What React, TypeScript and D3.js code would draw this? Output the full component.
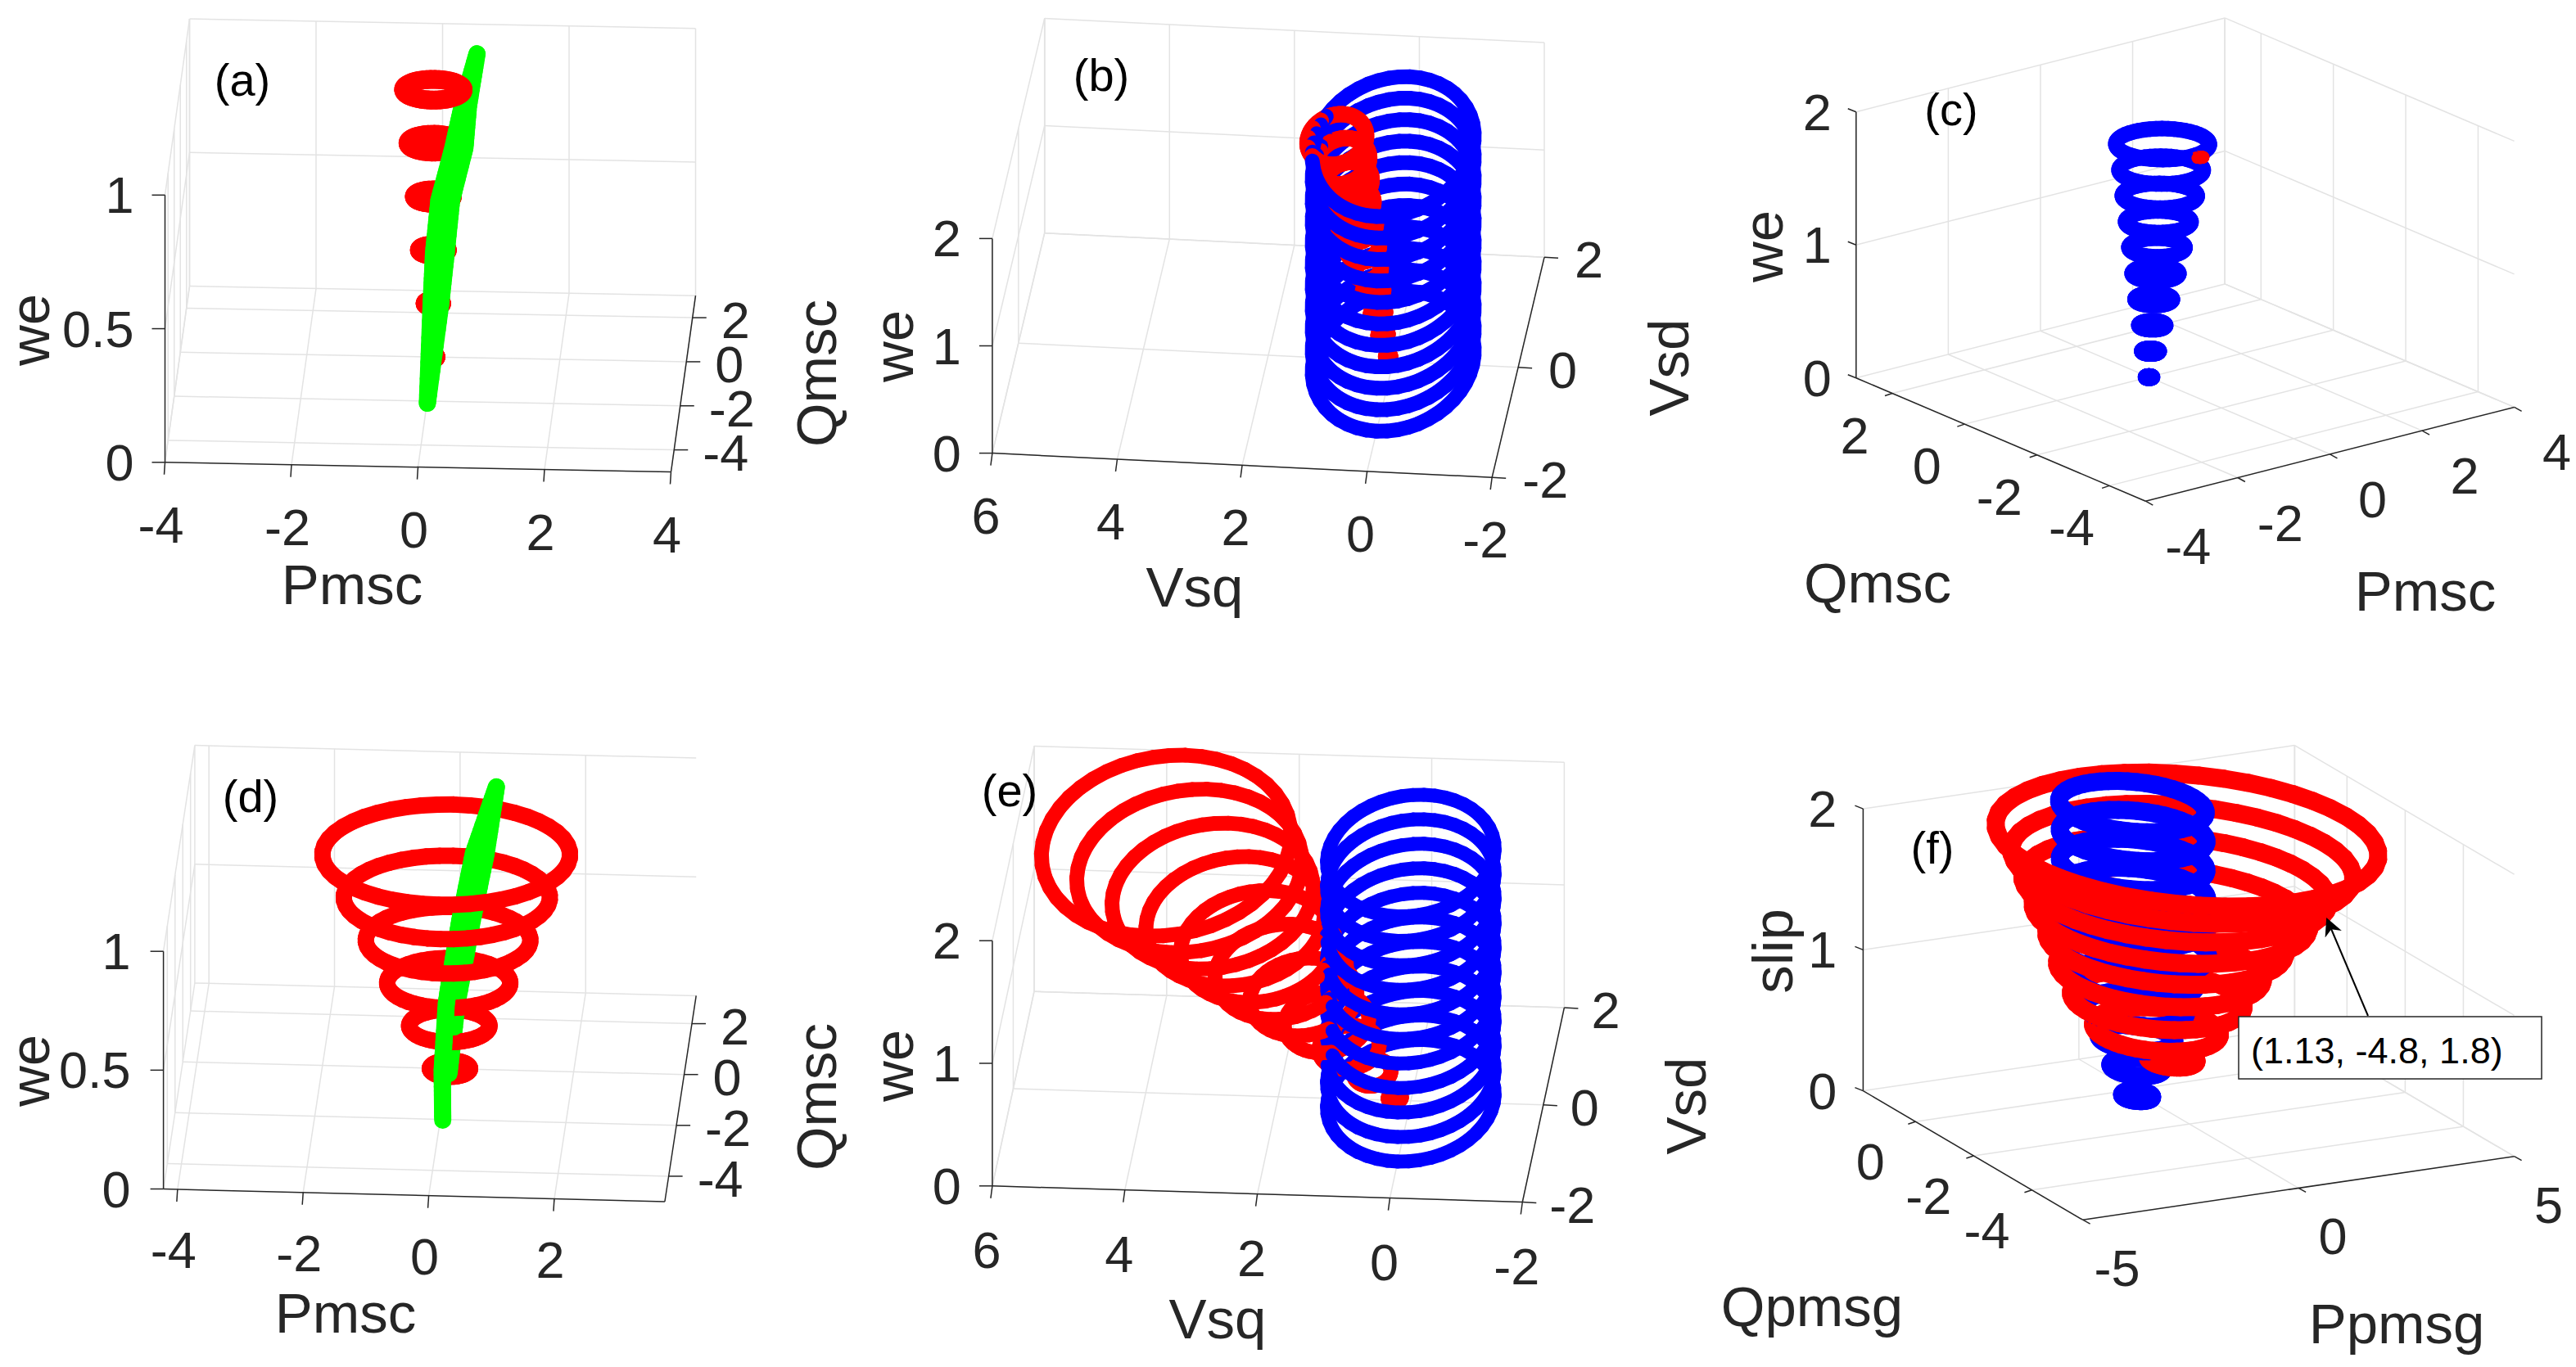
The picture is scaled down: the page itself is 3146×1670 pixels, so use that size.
import * as d3 from "d3";

const FONT = "'Liberation Sans', Arial, sans-serif";
const TEXT = "#262626";
const GRID = "#e3e3e3";
const RED = "#ff0000";
const BLUE = "#0000ff";
const GREEN = "#00ff00";

// rings: level, centre and radius of each turn
const aRedWe = [0, 0.2, 0.4, 0.6, 0.8, 1];
const aRedP = [0, 0, 0, 0, 0, 0];
const aRedQ = [0, 0, 0, 0, 0, 0];
const aRedR = [0.04, 0.13, 0.22, 0.3, 0.4, 0.47];
// the green trace is a very narrow coil, kept as its two edges
const aGreenLeftP = [0.08, 0.1, 0.12, 0.17, 0.35, 0.45, 0.61];
const aGreenRightP = [0.08, 0.25, 0.32, 0.37, 0.54, 0.55, 0.61];
const aGreenQ = [-3.6, -2.8, -2.4, -1.7, -0.85, 0.1, 1.65];
const aGreenWe = [0.124, 0.426, 0.589, 0.727, 0.854, 0.932, 1.001];

const bBlueWe = [0, 0.2, 0.4, 0.6, 0.8, 1, 1.2, 1.4, 1.6, 1.8, 2];
const bBlueV = [0, 0, 0, 0, 0, 0, 0, 0, 0, 0, 0];
const bBlueR = [1.27, 1.27, 1.27, 1.27, 1.27, 1.27, 1.27, 1.27, 1.27, 1.27, 1.27];
const bRedVsq = [0.1, 0.18, 0.26, 0.34, 0.42, 0.5, 0.59, 0.67, 0.75, 0.83, 0.92];
const bRedVsd = [0.08, 0.08, 0.08, 0.08, 0.08, 0.08, 0.08, 0.08, 0.08, 0.08, 0.08];
const bRedR = [0.03, 0.07, 0.11, 0.16, 0.2, 0.25, 0.29, 0.33, 0.38, 0.42, 0.46];

const cBlueWe = [0, 0.2, 0.4, 0.6, 0.8, 1, 1.2, 1.4, 1.6, 1.8];
const cBlueP = [0, 0, 0, 0, 0, 0, -0.01, -0.01, -0.02, -0.02];
const cBlueQ = [0, -0.04, -0.09, -0.13, -0.18, -0.22, -0.27, -0.31, -0.36, -0.4];
const cBlueR = [0.06, 0.15, 0.23, 0.32, 0.4, 0.48, 0.56, 0.64, 0.72, 0.8];
const cRedWe = [1.8];
const cRedP = [0.07];
const cRedQ = [-1.32];
const cRedR = [0.07];

const dRedWe = [0, 0.18, 0.36, 0.54, 0.72, 0.9];
const dRedP = [0.03, 0.02, 0.01, 0, -0.02, -0.03];
const dRedQ = [0, 0, 0, 0, 0, 0];
const dRedR = [0.32, 0.64, 0.98, 1.31, 1.64, 1.97];
const dGreenLeftP = [0.04, -0.02, 0.04, 0.11, 0.2, 0.36, 0.66];
const dGreenLeftQ = [-2.03, -1.2, -1.1, -1.2, -0.2, 0.7, 1.77];
const dGreenLeftWe = [0, 0.122, 0.392, 0.515, 0.648, 0.833, 1];
const dGreenRightP = [0.03, 0.18, 0.38, 0.55, 0.66];
const dGreenRightQ = [-0.25, -0.6, 0.1, 0.9, 1.77];
const dGreenRightWe = [0.006, 0.339, 0.615, 0.811, 1];

const eBlueR = [1.25, 1.25, 1.25, 1.25, 1.25, 1.25, 1.25, 1.25, 1.25, 1.25, 1.25];
const eRedVsq = [0.25, 0.59, 0.94, 1.28, 1.63, 1.97, 2.32, 2.66, 3.0, 3.35, 3.7];
const eRedVsd = [0.05, 0.05, 0.05, 0.05, 0.05, 0.05, 0.05, 0.05, 0.05, 0.05, 0.05];
const eRedR = [0.1, 0.28, 0.45, 0.63, 0.8, 0.98, 1.15, 1.33, 1.5, 1.68, 1.86];

const fBlueSlip = [0, 0.2, 0.4, 0.6, 0.8, 1, 1.2, 1.4, 1.6, 1.8, 2];
const fBlueP = [-0.08, -0.06, -0.05, -0.04, -0.02, -0.01, 0, 0.02, 0.03, 0.05, 0.06];
const fBlueQ = [-0.32, -0.28, -0.25, -0.21, -0.17, -0.14, -0.1, -0.06, -0.02, 0.01, 0.05];
const fBlueR = [0.29, 0.51, 0.73, 0.97, 1.17, 1.41, 1.41, 1.41, 1.41, 1.41, 1.41];
const fRedSlip = [0.2, 0.4, 0.6, 0.8, 1, 1.2, 1.4, 1.6, 1.8];
const fRedP = [0.84, 0.59, 0.65, 0.72, 0.83, 0.9, 0.94, 0.96, 0.92];
const fRedQ = [-0.16, 0.01, 0.07, 0.08, 0.04, -0.03, -0.13, -0.33, -0.55];
const fRedR = [0.47, 1.22, 1.66, 1.98, 2.3, 2.66, 2.95, 3.29, 3.68];

const ringAngles = d3.range(48).map((i) => (i / 48) * 2 * Math.PI);

type Pt = [number, number, number];
type Mark = { color: string; width: number; bias: number; paths: Pt[][] };

function rings(color: string, width: number, z: number[], cx: number[], cy: number[], r: number[], bias = 0): Mark {
  return {
    color,
    width,
    bias,
    paths: z.map((lev, i) => {
      const pts = ringAngles.map((a): Pt => [cx[i] + r[i] * Math.cos(a), cy[i] + r[i] * Math.sin(a), lev]);
      pts.push(pts[0]);
      return pts;
    }),
  };
}

function trace(color: string, width: number, x: number[], y: number[], z: number[]): Mark {
  // split the long pieces so they sort properly against the rings
  const pts: Pt[] = [];
  x.forEach((_, i) => {
    if (i === 0) return;
    const ix = d3.interpolateNumber(x[i - 1], x[i]);
    const iy = d3.interpolateNumber(y[i - 1], y[i]);
    const iz = d3.interpolateNumber(z[i - 1], z[i]);
    d3.range(12).forEach((k) => pts.push([ix(k / 12), iy(k / 12), iz(k / 12)]));
  });
  pts.push([x[x.length - 1], y[y.length - 1], z[z.length - 1]]);
  return { color, width, bias: 0, paths: [pts] };
}

const panels = [
  {
    letter: "(a)", letterAt: [296, 97],
    origin: [201.5, 564.8], xEnd: [819.5, 576.5], yEnd: [231.5, 349.5], zRise: 326.5,
    xDomain: [-4, 4], yDomain: [-5, 3], zDomain: [0, 1],
    xTicks: [-4, -2, 0, 2, 4], yTicks: [-4, -2, 0, 2], zTicks: [0, 0.5, 1],
    wallAtXEnd: false, xOff: [-5, 76], yOff: [35, 3], yAnchor: "start", zOff: -38, zTick: [-16, 0],
    xTickDir: [-1, 15], yTickDir: [17, 0],
    titles: [
      { t: "Pmsc", at: [430, 714], rot: 0 },
      { t: "we", at: [36, 403], rot: -90 },
      { t: "Qmsc", at: [997, 456], rot: -90 },
    ],
    marks: [
      rings(RED, 23, aRedWe, aRedP, aRedQ, aRedR),
      trace(GREEN, 21, aGreenLeftP, aGreenQ, aGreenWe),
      trace(GREEN, 21, aGreenRightP, aGreenQ, aGreenWe),
    ],
  },
  {
    letter: "(b)", letterAt: [1345, 91],
    origin: [1211.9, 553.6], xEnd: [1822.2, 583.2], yEnd: [1275.7, 284.7], zRise: 262.2,
    xDomain: [6, -2], yDomain: [-2, 2], zDomain: [0, 2],
    xTicks: [6, 4, 2, 0, -2], yTicks: [-2, 0, 2], zTicks: [0, 1, 2],
    wallAtXEnd: false, xOff: [-8, 76], yOff: [37, 3], yAnchor: "start", zOff: -38, zTick: [-16, 0],
    xTickDir: [-2, 15], yTickDir: [17, 1],
    titles: [
      { t: "Vsq", at: [1459, 717], rot: 0 },
      { t: "we", at: [1091, 423], rot: -90 },
      { t: "Vsd", at: [2038, 449], rot: -90 },
    ],
    marks: [
      rings(BLUE, 18, bBlueWe, bBlueV, bBlueV, bBlueR),
      rings(RED, 20, bBlueWe, bRedVsq, bRedVsd, bRedR),
    ],
  },
  {
    letter: "(c)", letterAt: [2383, 133],
    origin: [2620.3, 612.2], xEnd: [3070.6, 497.4], yEnd: [2266.8, 461.7], zRise: 325,
    xDomain: [-4, 4], yDomain: [-5, 3], zDomain: [0, 2],
    xTicks: [-4, -2, 0, 2, 4], yTicks: [-4, -2, 0, 2], zTicks: [0, 1, 2],
    wallAtXEnd: true, xOff: [52, 55], yOff: [-46, 51], yAnchor: "middle", zOff: -30, zTick: [-10, -4],
    xTickDir: [9, 5], yTickDir: [-9, 3],
    titles: [
      { t: "we", at: [2153, 301], rot: -90 },
      { t: "Qmsc", at: [2293, 712], rot: 0 },
      { t: "Pmsc", at: [2962, 722], rot: 0 },
    ],
    marks: [
      rings(BLUE, 19, cBlueWe, cBlueP, cBlueQ, cBlueR),
      rings(RED, 13, cRedWe, cRedP, cRedQ, cRedR),
    ],
  },
  {
    letter: "(d)", letterAt: [306, 972],
    origin: [199.6, 1452.5], xEnd: [811.9, 1468], yEnd: [237.9, 1200.9], zRise: 290.3,
    xDomain: [-4.225, 3.76], yDomain: [-5, 3.1], zDomain: [0, 1],
    xTicks: [-4, -2, 0, 2], yTicks: [-4, -2, 0, 2], zTicks: [0, 0.5, 1],
    wallAtXEnd: false, xOff: [-5, 74], yOff: [35, 3], yAnchor: "start", zOff: -40, zTick: [-16, 0],
    xTickDir: [-1, 15], yTickDir: [17, 0],
    titles: [
      { t: "Pmsc", at: [422, 1604], rot: 0 },
      { t: "we", at: [36, 1308], rot: -90 },
      { t: "Qmsc", at: [997, 1340], rot: -90 },
    ],
    marks: [
      rings(RED, 20, dRedWe, dRedP, dRedQ, dRedR),
      trace(GREEN, 21, dGreenLeftP, dGreenLeftQ, dGreenLeftWe),
      trace(GREEN, 21, dGreenRightP, dGreenRightQ, dGreenRightWe),
    ],
  },
  {
    letter: "(e)", letterAt: [1233, 965],
    origin: [1211.9, 1448.8], xEnd: [1859.3, 1468.5], yEnd: [1263, 1211.2], zRise: 299.6,
    xDomain: [6, -2], yDomain: [-2, 2], zDomain: [0, 2],
    xTicks: [6, 4, 2, 0, -2], yTicks: [-2, 0, 2], zTicks: [0, 1, 2],
    wallAtXEnd: false, xOff: [-7, 78], yOff: [33, 3], yAnchor: "start", zOff: -38, zTick: [-16, 0],
    xTickDir: [-2, 15], yTickDir: [17, 1],
    titles: [
      { t: "Vsq", at: [1487, 1611], rot: 0 },
      { t: "we", at: [1091, 1302], rot: -90 },
      { t: "Vsd", at: [2059, 1351], rot: -90 },
    ],
    marks: [
      rings(BLUE, 17, bBlueWe, bBlueV, bBlueV, eBlueR),
      rings(RED, 18, bBlueWe, eRedVsq, eRedVsd, eRedR),
    ],
  },
  {
    letter: "(f)", letterAt: [2360, 1035],
    origin: [2543.6, 1490.2], xEnd: [3070.6, 1412.7], yEnd: [2275.4, 1332.6], zRise: 344.5,
    xDomain: [-5, 5], yDomain: [-5.75, 1.8], zDomain: [0, 2],
    xTicks: [-5, 0, 5], yTicks: [-4, -2, 0], zTicks: [0, 1, 2],
    wallAtXEnd: true, xOff: [42, 59], yOff: [-55, 49], yAnchor: "middle", zOff: -32, zTick: [-10, -4],
    xTickDir: [9, 5], yTickDir: [-9, 3],
    titles: [
      { t: "slip", at: [2165, 1162], rot: -90 },
      { t: "Qpmsg", at: [2213, 1596], rot: 0 },
      { t: "Ppmsg", at: [2927, 1617], rot: 0 },
    ],
    marks: [
      rings(BLUE, 22, fBlueSlip, fBlueP, fBlueQ, fBlueR, 50),
      rings(RED, 22, fRedSlip, fRedP, fRedQ, fRedR),
    ],
  },
];

const segment = d3.line();

function Txt({ x, y, t, size, rot = 0, anchor = "middle", fill = TEXT }: any) {
  return (
    <text
      transform={`translate(${x},${y}) rotate(${rot})`}
      fontFamily={FONT}
      fontSize={size}
      fill={fill}
      textAnchor={anchor}
      dominantBaseline="central"
    >
      {t}
    </text>
  );
}

function Panel({ p }: any) {
  const fx = d3.scaleLinear().domain(p.xDomain).range([0, 1]);
  const fy = d3.scaleLinear().domain(p.yDomain).range([0, 1]);
  const fz = d3.scaleLinear().domain(p.zDomain).range([0, 1]);
  const ex = [p.xEnd[0] - p.origin[0], p.xEnd[1] - p.origin[1]];
  const ey = [p.yEnd[0] - p.origin[0], p.yEnd[1] - p.origin[1]];

  const project = (x: number, y: number, z: number): [number, number] => [
    p.origin[0] + fx(x) * ex[0] + fy(y) * ey[0],
    p.origin[1] + fx(x) * ex[1] + fy(y) * ey[1] - fz(z) * p.zRise,
  ];
  // bigger means further from the viewer
  const depth = (x: number, y: number, z: number) =>
    -(fx(x) * ex[1] + fy(y) * ey[1]) * 1.5 - (fz(z) * p.zRise) / 1.5;

  const [x0, x1] = p.xDomain;
  const [y0, y1] = p.yDomain;
  const zTop = p.zDomain[1];
  const wallX = p.wallAtXEnd ? x1 : x0;
  const sideX = p.wallAtXEnd ? x0 : x1;
  const zAxisY = p.wallAtXEnd ? y1 : y0;
  const zAxisX = x0;

  const grid: [number, number][][] = [];
  const add = (a: Pt, b: Pt) => grid.push([project(...a), project(...b)]);
  p.xTicks.forEach((t: number) => {
    add([t, y0, 0], [t, y1, 0]);
    add([t, y1, 0], [t, y1, zTop]);
  });
  p.yTicks.forEach((t: number) => {
    add([x0, t, 0], [x1, t, 0]);
    add([wallX, t, 0], [wallX, t, zTop]);
  });
  p.zTicks.forEach((t: number) => {
    add([x0, y1, t], [x1, y1, t]);
    add([wallX, y0, t], [wallX, y1, t]);
  });
  add([wallX, y1, 0], [wallX, y1, zTop]);

  const axes: [number, number][][] = [
    [project(x0, y0, 0), project(x1, y0, 0)],
    [project(sideX, y0, 0), project(sideX, y1, 0)],
    [project(zAxisX, zAxisY, 0), project(zAxisX, zAxisY, zTop)],
  ];

  const pieces: { d: string; color: string; width: number; far: number }[] = [];
  p.marks.forEach((m: Mark) =>
    m.paths.forEach((pts) => {
      for (let i = 1; i < pts.length; i++) {
        const a = pts[i - 1];
        const b = pts[i];
        pieces.push({
          d: segment([project(...a), project(...b)]) as string,
          color: m.color,
          width: m.width,
          far: (depth(...a) + depth(...b)) / 2 + m.bias,
        });
      }
    }),
  );
  pieces.sort((a, b) => d3.descending(a.far, b.far));

  return (
    <g>
      {grid.map((g, i) => (
        <path key={i} d={segment(g) as string} stroke={GRID} strokeWidth={1.5} fill="none" />
      ))}
      {axes.map((g, i) => (
        <path key={i} d={segment(g) as string} stroke={TEXT} strokeWidth={1.5} fill="none" />
      ))}
      {p.xTicks.map((t: number) => {
        const [a, b] = project(t, y0, 0);
        return (
          <g key={t}>
            <line x1={a} y1={b} x2={a + p.xTickDir[0]} y2={b + p.xTickDir[1]} stroke={TEXT} strokeWidth={1.5} />
            <Txt x={a + p.xOff[0]} y={b + p.xOff[1]} t={t} size={63} />
          </g>
        );
      })}
      {p.yTicks.map((t: number) => {
        const [a, b] = project(sideX, t, 0);
        return (
          <g key={t}>
            <line x1={a} y1={b} x2={a + p.yTickDir[0]} y2={b + p.yTickDir[1]} stroke={TEXT} strokeWidth={1.5} />
            <Txt x={a + p.yOff[0]} y={b + p.yOff[1]} t={t} size={63} anchor={p.yAnchor} />
          </g>
        );
      })}
      {p.zTicks.map((t: number) => {
        const [a, b] = project(zAxisX, zAxisY, t);
        return (
          <g key={t}>
            <line x1={a} y1={b} x2={a + p.zTick[0]} y2={b + p.zTick[1]} stroke={TEXT} strokeWidth={1.5} />
            <Txt x={a + p.zOff} y={b} t={t} size={63} anchor="end" />
          </g>
        );
      })}
      {pieces.map((s, i) => (
        <path key={i} d={s.d} stroke={s.color} strokeWidth={s.width} strokeLinecap="round" fill="none" />
      ))}
      {p.titles.map((t: any) => (
        <Txt key={t.t} x={t.at[0]} y={t.at[1]} t={t.t} size={69} rot={t.rot} />
      ))}
      <Txt x={p.letterAt[0]} y={p.letterAt[1]} t={p.letter} size={56} fill="#000" />
    </g>
  );
}

export default function App() {
  return (
    <svg width={3146} height={1670} style={{ position: "absolute", left: 0, top: 0, background: "#fff" }}>
      <defs>
        <marker id="head" viewBox="0 0 10 10" refX="9" refY="5" markerWidth="28" markerHeight="22" markerUnits="userSpaceOnUse" orient="auto">
          <path d="M0,0 L10,5 L0,10 L3,5 Z" fill="#000" />
        </marker>
      </defs>
      {panels.map((p) => (
        <Panel key={p.letter} p={p} />
      ))}
      <line x1={2892} y1={1241} x2={2842} y2={1123} stroke="#000" strokeWidth={2} markerEnd="url(#head)" />
      <rect x={2734} y={1242} width={370} height={76} fill="#fff" stroke="#262626" strokeWidth={1.5} />
      <Txt x={2749} y={1283} t="(1.13, -4.8, 1.8)" size={45} anchor="start" fill="#000" />
    </svg>
  );
}
